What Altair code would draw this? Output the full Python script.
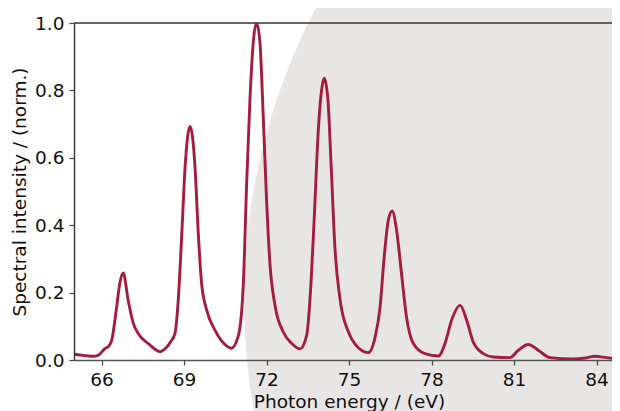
import altair as alt
import pandas as pd

energy = [65.0, 65.4, 65.76, 65.95, 66.12, 66.25, 66.37, 66.55, 66.66, 66.79, 66.97, 67.16, 67.34, 67.70,
          68.13, 68.35, 68.52, 68.67, 68.79, 68.92, 69.04, 69.22, 69.40, 69.52, 69.64, 69.83, 70.13, 70.49,
          70.72, 70.98, 71.16, 71.28, 71.40, 71.52, 71.64, 71.76, 71.88, 72.00, 72.13, 72.31, 72.61, 72.92,
          73.22, 73.46, 73.62, 73.74, 73.88, 74.01, 74.10, 74.23, 74.35, 74.49, 74.67, 74.98, 75.22, 75.70,
          75.95, 76.13, 76.28, 76.43, 76.57, 76.73, 76.91, 77.09, 77.34, 77.76, 78.25, 78.49, 78.73, 79.04,
          79.28, 79.52, 79.88, 80.25, 80.85, 81.16, 81.52, 81.88, 82.31, 83.16, 83.6, 83.95, 84.37, 84.85, 85.0]
intensity = [0.017, 0.013, 0.011, 0.018, 0.034, 0.040, 0.058, 0.157, 0.225, 0.258, 0.177, 0.108, 0.078, 0.049,
             0.025, 0.036, 0.055, 0.078, 0.177, 0.375, 0.573, 0.693, 0.573, 0.375, 0.227, 0.147, 0.088, 0.046,
             0.035, 0.073, 0.231, 0.528, 0.776, 0.944, 1.0, 0.944, 0.726, 0.479, 0.281, 0.162, 0.083, 0.049,
             0.033, 0.073, 0.231, 0.429, 0.677, 0.805, 0.836, 0.776, 0.578, 0.331, 0.182, 0.083, 0.047, 0.022,
             0.068, 0.157, 0.306, 0.415, 0.442, 0.385, 0.256, 0.128, 0.049, 0.019, 0.012, 0.049, 0.118, 0.162,
             0.118, 0.053, 0.019, 0.009, 0.007, 0.029, 0.046, 0.029, 0.007, 0.003, 0.006, 0.011, 0.007, 0.003, 0.003]

x_ticks = [66, 69, 72, 75, 78, 81, 84]
y_ticks = [0.0, 0.2, 0.4, 0.6, 0.8, 1.0]

df = pd.DataFrame({"energy": energy, "intensity": intensity})
deco = pd.DataFrame({"k": [0]})

W, H = 538, 337
FONT = "DejaVu Sans"
FS = 18.5

xscale = alt.Scale(domain=[65, 65 + W / 27.5], nice=False, zero=False)
yscale = alt.Scale(domain=[0, 1], nice=False)

xaxis = alt.Axis(values=x_ticks, title="Photon energy / (eV)", grid=False, zindex=1,
                 labelFontSize=FS, titleFontSize=FS, labelFont=FONT, titleFont=FONT,
                 labelColor="#111", titleColor="#111", titleFontWeight="normal",
                 domainColor="#555", domainWidth=1.6, tickColor="#444", tickWidth=1.2, tickSize=5,
                 labelPadding=5, titlePadding=4, labelFlush=False, titleX=275)
yaxis = alt.Axis(values=y_ticks, format=".1f", title="Spectral intensity / (norm.)", grid=False, zindex=1,
                 labelFontSize=FS, titleFontSize=FS, labelFont=FONT, titleFont=FONT,
                 labelColor="#111", titleColor="#111", titleFontWeight="normal",
                 domainColor="#333", domainWidth=1.4, tickColor="#444", tickWidth=1.2, tickSize=5,
                 labelPadding=5, titlePadding=5, labelFlush=False)

bg = alt.Chart(deco).mark_circle(color="#e8e6e5", opacity=1).encode(
    x=alt.value(800), y=alt.value(277), size=alt.value(1587600)
)

top = alt.Chart(deco).mark_rule(color="#333", strokeWidth=1.5).encode(
    x=alt.value(0), x2=alt.value(W), y=alt.value(0)
)

line = alt.Chart(df).mark_line(color="#a51d3c", strokeWidth=2.9, interpolate="monotone", clip=True).encode(
    x=alt.X("energy:Q", scale=xscale, axis=xaxis),
    y=alt.Y("intensity:Q", scale=yscale, axis=yaxis),
)

chart = alt.layer(bg, line, top).properties(
    width=W, height=H,
    autosize=alt.AutoSizeParams(type="none"),
    padding={"left": 66, "top": 15, "right": 0, "bottom": 51},
).configure_view(stroke=None)

chart.save("out.html", embed_options={"renderer": "svg", "actions": False})
